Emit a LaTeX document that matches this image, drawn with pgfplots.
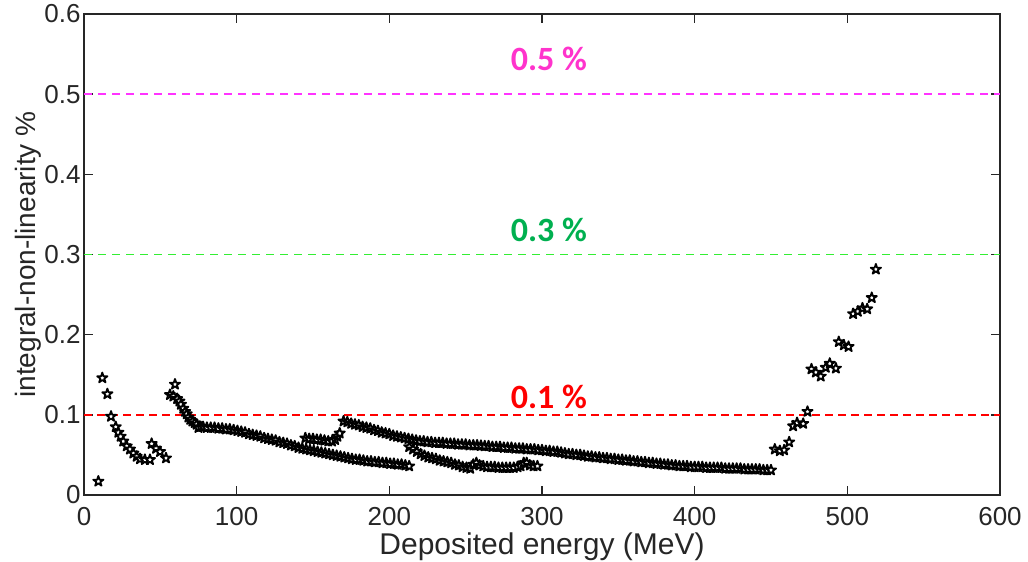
\documentclass[border=0pt]{standalone}
\usepackage{fontspec}
\setmainfont{Liberation Sans}
\newfontfamily\calib{Carlito}
\usepackage{pgfplots}
\pgfplotsset{compat=1.18}
\usetikzlibrary{plotmarks}

\definecolor{axisgray}{HTML}{262626}
\definecolor{limmagenta}{HTML}{FF33FF}
\definecolor{limgreen}{HTML}{33EE33}
\definecolor{limred}{HTML}{FF0000}
\definecolor{txtmagenta}{HTML}{FF33CC}
\definecolor{txtgreen}{HTML}{00B050}
\definecolor{txtred}{HTML}{FF0000}

% five-pointed star outline
\pgfdeclareplotmark{pentagram}{%
  \pgfpathmoveto{\pgfpointpolar{90}{\pgfplotmarksize}}%
  \pgfpathlineto{\pgfpointpolar{126}{0.382\pgfplotmarksize}}%
  \pgfpathlineto{\pgfpointpolar{162}{\pgfplotmarksize}}%
  \pgfpathlineto{\pgfpointpolar{198}{0.382\pgfplotmarksize}}%
  \pgfpathlineto{\pgfpointpolar{234}{\pgfplotmarksize}}%
  \pgfpathlineto{\pgfpointpolar{270}{0.382\pgfplotmarksize}}%
  \pgfpathlineto{\pgfpointpolar{306}{\pgfplotmarksize}}%
  \pgfpathlineto{\pgfpointpolar{342}{0.382\pgfplotmarksize}}%
  \pgfpathlineto{\pgfpointpolar{18}{\pgfplotmarksize}}%
  \pgfpathlineto{\pgfpointpolar{54}{0.382\pgfplotmarksize}}%
  \pgfpathclose
  \pgfusepathqfillstroke
}

\pgfplotsset{
  inl/.style={only marks, mark=pentagram, mark size=2.7pt,
    mark options={draw=black, fill=white, line width=0.9pt, line join=round}},
}

\begin{document}
\begin{tikzpicture}
\begin{axis}[
  at={(42pt,33.5pt)}, anchor=south west,
  scale only axis, width=458pt, height=240.5pt,
  xmin=0, xmax=600, ymin=0, ymax=0.6,
  xtick={0,100,200,300,400,500,600},
  ytick={0,0.1,0.2,0.3,0.4,0.5,0.6},
  tick pos=both, tick align=inside,
  major tick length=4.5pt,
  axis line style={axisgray, line width=0.75pt},
  every tick/.style={axisgray, line width=0.75pt},
  /pgf/number format/assume math mode=true,
  /pgf/number format/fixed,
  tick label style={font=\fontsize{13}{15}\selectfont, text=axisgray},
  xticklabel style={anchor=north, inner sep=0pt, yshift=-6pt},
  yticklabel style={anchor=east, inner sep=0pt, xshift=-1.5pt},
  xlabel={Deposited energy (MeV)},
  ylabel={integral-non-linearity \%},
  xlabel style={at={(axis description cs:0.5,0)}, anchor=center, yshift=-26pt,
    font=\fontsize{15}{17}\selectfont, text=axisgray},
  ylabel style={at={(axis description cs:-0.0611,0.5)}, anchor=center,
    font=\fontsize{14}{16}\selectfont, text=axisgray},
  clip=false,
]

% reference limits
\addplot[limmagenta, line width=0.8pt, dash pattern=on 4pt off 3pt] coordinates {(0,0.5) (600,0.5)};
\addplot[limgreen, line width=0.8pt, dash pattern=on 4pt off 3pt] coordinates {(0,0.3) (600,0.3)};
\addplot[limred, line width=0.8pt, dash pattern=on 4pt off 2.5pt] coordinates {(0,0.1) (600,0.1)};

\node[font=\calib\bfseries\fontsize{17}{19}\selectfont, text=txtmagenta, anchor=center] at (axis cs:304.5,0.5438) {0.5 \%};
\node[font=\calib\bfseries\fontsize{17}{19}\selectfont, text=txtgreen, anchor=center] at (axis cs:304.5,0.3305) {0.3 \%};
\node[font=\calib\bfseries\fontsize{17}{19}\selectfont, text=txtred, anchor=center] at (axis cs:304.5,0.1222) {0.1 \%};

% lowest energies
\addplot[inl] coordinates {
(9.4,0.017)(12.0,0.146)(15.3,0.126)(17.7,0.098)(20.8,0.085)(22.5,0.078)
(24.0,0.073)(25.7,0.067)(28.0,0.061)(30.1,0.057)(32.3,0.052)(34.5,0.048)
(36.7,0.045)(39.9,0.044)(43.2,0.044)
(44.3,0.064)(47.2,0.058)(49.8,0.054)(53.7,0.046)
};

% second range, 56-213 MeV
\addplot[inl] coordinates {
(56.3,0.125)(58.5,0.123)(59.6,0.138)(61.0,0.120)(62.5,0.117)(63.5,0.113)
(65.0,0.108)(66.2,0.104)(67.3,0.101)(68.4,0.097)(69.6,0.094)(71.0,0.092)
(72.5,0.090)(73.8,0.088)(75.0,0.084)(76.5,0.085)
(78,0.085)(80.5,0.084)(83,0.084)(85.5,0.084)(88,0.083)(90.5,0.083)
(93,0.082)(95.5,0.082)(98,0.081)(100.5,0.080)(103,0.079)(105.5,0.078)
(108,0.076)(110.5,0.075)(113,0.074)(115.5,0.073)(118,0.071)(120.5,0.070)
(123,0.069)(125.5,0.068)(128,0.066)(130.5,0.065)(133,0.064)(135.5,0.062)
(138,0.061)(140.5,0.059)(143,0.058)(145.5,0.057)(148,0.056)(150.5,0.055)
(153,0.054)(155.5,0.053)(158,0.052)(160.5,0.051)(163,0.050)(165.5,0.049)
(168,0.048)(170.5,0.047)(173,0.046)(175.5,0.045)(178,0.044)(180.5,0.044)
(183,0.043)(185.5,0.042)(188,0.042)(190.5,0.041)(193,0.041)(195.5,0.040)
(198,0.040)(200.5,0.039)(203,0.039)(205.5,0.038)(208,0.038)(210.5,0.037)
(213,0.036)
};

% short segment, 145-168 MeV
\addplot[inl] coordinates {
(145,0.071)(147.5,0.070)(150,0.070)(152.5,0.069)(155,0.069)(157.5,0.068)
(160,0.067)(162.5,0.067)(164.5,0.069)(166,0.073)(167.5,0.077)
};

% third range, 170-450 MeV
\addplot[inl] coordinates {
(170,0.092)(172.5,0.091)(175,0.089)(177.5,0.088)(180,0.087)(182.5,0.085)
(185,0.084)(187.5,0.083)(190,0.081)(192.5,0.080)(195,0.078)(197.5,0.077)
(200,0.076)(202.5,0.074)(205,0.073)(207.5,0.072)(210,0.071)(212.5,0.070)
(215,0.069)(217.5,0.068)(220,0.067)(222.5,0.067)(225,0.066)(227.5,0.066)
(230,0.065)(232.5,0.065)(235,0.065)(237.5,0.064)(240,0.064)(242.5,0.064)
(245,0.063)(247.5,0.063)(250,0.063)(252.5,0.062)(255,0.062)(257.5,0.062)
(260,0.0615)(262.5,0.061)(265,0.061)(267.5,0.060)(270,0.060)(272.5,0.060)
(275,0.059)(277.5,0.059)(280,0.059)(282.5,0.058)(285,0.058)(287.5,0.058)
(290,0.057)(292.5,0.057)(295,0.057)(297.5,0.056)(300,0.056)(302.5,0.055)
(305,0.055)(307.5,0.054)(310,0.054)(312.5,0.053)(315,0.052)(317.5,0.051)
(320,0.051)(322.5,0.050)(325,0.050)(327.5,0.049)(330,0.048)(332.5,0.048)
(335,0.047)(337.5,0.047)(340,0.046)(342.5,0.046)(345,0.045)(347.5,0.045)
(350,0.044)(352.5,0.044)(355,0.043)(357.5,0.043)(360,0.042)(362.5,0.042)
(365,0.041)(367.5,0.041)(370,0.040)(372.5,0.040)(375,0.039)(377.5,0.039)
(380,0.038)(382.5,0.038)(385,0.037)(387.5,0.037)(390,0.036)(392.5,0.036)
(395,0.036)(397.5,0.035)(400,0.035)(402.5,0.035)(405,0.035)(407.5,0.034)
(410,0.034)(412.5,0.034)(415,0.034)(417.5,0.034)(420,0.033)(422.5,0.033)
(425,0.033)(427.5,0.033)(430,0.033)(432.5,0.032)(435,0.032)(437.5,0.032)
(440,0.032)(442.5,0.032)(445,0.031)(447.5,0.031)(450,0.031)
};

% branch, 213-297 MeV
\addplot[inl] coordinates {
(213,0.060)(215.5,0.057)(218,0.054)(220.5,0.051)(223,0.049)(225.5,0.047)
(228,0.046)(230.5,0.045)(233,0.043)(235.5,0.042)(238,0.041)(240.5,0.040)
(243,0.038)(245.5,0.037)(248,0.035)(250.5,0.034)(253,0.033)(255,0.038)
(257,0.040)(259,0.037)(261.5,0.036)(264,0.035)(266.5,0.035)(269,0.035)
(271.5,0.034)(274,0.034)(276.5,0.034)(279,0.034)(281.5,0.034)(284,0.035)
(286,0.036)(288,0.040)(290,0.040)(292,0.037)(294.5,0.036)(297,0.036)
};

% highest energies
\addplot[inl] coordinates {
(452.5,0.057)(455.8,0.055)(458.6,0.056)(461.9,0.066)(464.5,0.086)
(467.1,0.090)(471.1,0.089)(473.9,0.104)(476.5,0.157)(479.4,0.153)
(482.6,0.148)(485.9,0.159)(488.5,0.164)(492.5,0.158)(494.4,0.191)
(497.7,0.187)(500.8,0.185)(503.8,0.226)(506.9,0.229)(509.9,0.233)
(513.0,0.232)(516.0,0.246)(518.7,0.2815)
};
\end{axis}
\pgfresetboundingbox
\path[use as bounding box] (0,0) rectangle (514pt,281pt);
\end{tikzpicture}
\end{document}
